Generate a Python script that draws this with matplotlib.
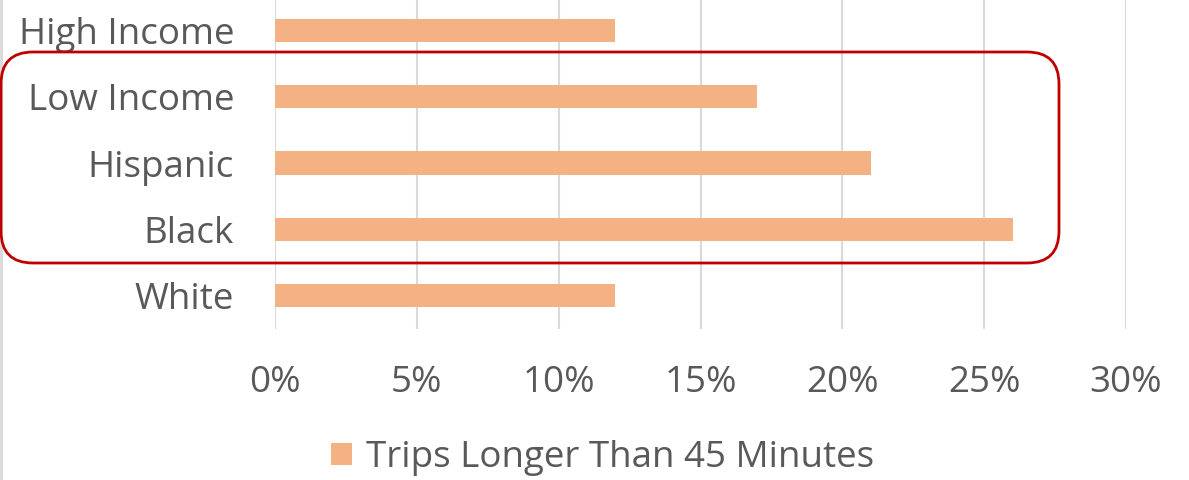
import matplotlib.pyplot as plt
from matplotlib.patches import FancyBboxPatch
from matplotlib.lines import Line2D
from matplotlib.ticker import FuncFormatter

categories = ['High Income', 'Low Income', 'Hispanic', 'Black', 'White']
values = [0.12, 0.17, 0.21, 0.26, 0.12]
series_name = 'Trips Longer Than 45 Minutes'
xticks = [0, 0.05, 0.10, 0.15, 0.20, 0.25, 0.30]

plt.rcParams['font.family'] = ['Open Sans', 'DejaVu Sans']
txt = '#595959'
bar_color = '#F4B183'
grid_color = '#D9D9D9'

fig = plt.figure(figsize=(11.89, 4.8), dpi=100)
ax = fig.add_axes([275 / 1189, (480 - 329) / 480, (1126 - 275) / 1189, 332 / 480])

y = list(range(len(categories)))
ax.barh(y, values, height=0.35, color=bar_color, label=series_name, zorder=3)
ax.set_yticks(y)
ax.set_yticklabels(categories)
ax.set_ylim(len(categories) - 0.5, -0.5)
ax.set_xlim(0, 0.3)
ax.set_xticks(xticks)
ax.xaxis.set_major_formatter(FuncFormatter(lambda v, p: f'{v * 100:.0f}%'))
ax.grid(axis='x', color=grid_color, linewidth=1.5, zorder=0)
for s in ax.spines.values():
    s.set_visible(False)
ax.tick_params(axis='both', length=0, labelsize=26.5, colors=txt)
ax.tick_params(axis='y', pad=29.5)
ax.tick_params(axis='x', pad=26)

leg = fig.legend(loc='center', bbox_to_anchor=(603 / 1189, (480 - 458) / 480),
                 frameon=False, fontsize=26.5, handlelength=0.55, handleheight=0.55,
                 handletextpad=0.4)
for t in leg.get_texts():
    t.set_color(txt)

# chart border on left edge
fig.add_artist(Line2D([0.001, 0.001], [0, 1], transform=fig.transFigure,
                      color=grid_color, linewidth=2))

# red rounded highlight box
box = FancyBboxPatch((0.3, 2.46), 10.0, 1.53,
                     boxstyle='round,pad=0.29,rounding_size=0.32',
                     transform=fig.dpi_scale_trans, fill=False,
                     edgecolor='#C00000', linewidth=2, zorder=10)
fig.add_artist(box)

fig.savefig('out.png', dpi=100)
